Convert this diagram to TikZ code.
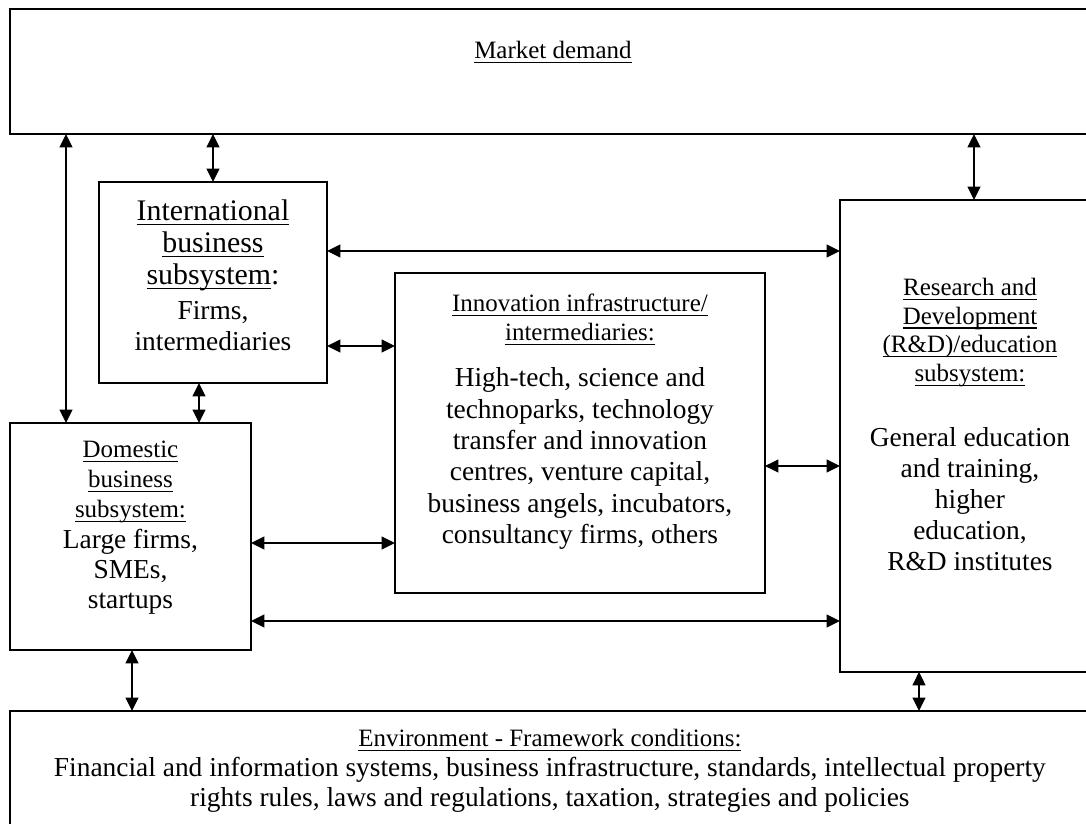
\documentclass[tikz,border=0pt]{standalone}
\usepackage{fontspec}
\setmainfont{Liberation Serif}
\usepackage{tikz}
\usetikzlibrary{positioning,arrows.meta}
\tikzset{caja/.style={draw, line width=0.8pt, inner sep=0pt, outer sep=0pt, anchor=north west}}
\tikzset{flecha/.style={line width=0.8pt, {Triangle[length=0.27cm,width=0.26cm]}-{Triangle[length=0.27cm,width=0.26cm]}}}
\tikzset{titulo/.style={align=center, inner sep=0pt, outer sep=0pt, anchor=north, font=\fontsize{14.2}{16.4}\selectfont}}
\tikzset{cuerpo/.style={align=center, inner sep=0pt, outer sep=0pt, anchor=north, font=\fontsize{15.6}{17.6}\selectfont}}
\newsavebox{\subrbox}
\newcommand{\subr}[1]{\sbox{\subrbox}{#1}\rlap{\rule[-2.6pt]{\wd\subrbox}{0.7pt}}\usebox{\subrbox}}

\begin{document}
\begin{tikzpicture}[x=0.02cm, y=-0.02cm]
    \useasboundingbox (0,0) rectangle (1086,824);
    \clip (0,0) rectangle (1086,824);

    % cajas
    \node[caja, minimum width=21.72cm, minimum height=2.5cm]  (market) at (10,9)    {};
    \node[caja, minimum width=4.56cm,  minimum height=4.02cm] (intl)   at (99,182)  {};
    \node[caja, minimum width=4.82cm,  minimum height=4.54cm] (dom)    at (10,423)  {};
    \node[caja, minimum width=7.4cm,   minimum height=6.4cm]  (inn)    at (395,273) {};
    \node[caja, minimum width=5.2cm,   minimum height=9.44cm] (rd)     at (840,200) {};
    \node[caja, minimum width=21.6cm,  minimum height=2.6cm]  (env)    at (10,711)  {};

    % textos
    \node[titulo, below=0.64cm of market.north] (mdtext) {\subr{Market demand}};

    \node[titulo, below=0.36cm of intl.north, font=\fontsize{17}{18.1}\selectfont] (inttitle)
        {\subr{International}\\ \subr{business}\\ \subr{subsystem}:};
    \node[cuerpo, below=2.38cm of intl.north, font=\fontsize{15.6}{18.1}\selectfont] (intbody)
        {Firms,\\ intermediaries};

    \node[titulo, below=0.36cm of dom.north, font=\fontsize{14.2}{17}\selectfont] (domtitle)
        {\subr{Domestic}\\ \subr{business}\\ \subr{subsystem:}};
    \node[cuerpo, below=2.12cm of dom.north, font=\fontsize{15.6}{17}\selectfont] (dombody)
        {Large firms,\\ SMEs,\\ startups};

    \node[titulo, below=0.42cm of inn.north] (inntitle)
        {\subr{Innovation infrastructure/}\\ \subr{intermediaries:}};
    \node[cuerpo, below=1.9cm of inn.north, font=\fontsize{15.6}{17.8}\selectfont] (innbody)
        {High-tech, science and\\ technoparks, technology\\ transfer and innovation\\
         centres, venture capital,\\ business angels, incubators,\\ consultancy firms, others};

    \node[titulo, below=1.56cm of rd.north] (rdtitle)
        {\subr{Research and}\\ \subr{Development}\\ \subr{(R\&D)/education}\\ \subr{subsystem:}};
    \node[cuerpo, below=4.56cm of rd.north] (rdbody)
        {General education\\ and training,\\ higher\\ education,\\ R\&D institutes};

    \node[titulo, below=0.36cm of env.north] (envtitle) {\subr{Environment - Framework conditions:}};
    \node[cuerpo, below=0.92cm of env.north, font=\fontsize{15.6}{17}\selectfont] (envbody)
        {Financial and information systems, business infrastructure, standards, intellectual property\\
         rights rules, laws and regulations, taxation, strategies and policies};

    % flechas
    \coordinate (c1) at (66,0);
    \coordinate (c2) at (199,0);
    \coordinate (c3) at (974,0);
    \coordinate (c4) at (132,0);
    \coordinate (c5) at (919,0);
    \coordinate (f1) at (0,251);
    \coordinate (f2) at (0,346);
    \coordinate (f3) at (0,466);
    \coordinate (f4) at (0,543);
    \coordinate (f5) at (0,621);

    \draw[flecha] (market.south -| c1) -- (dom.north -| c1);
    \draw[flecha] (market.south -| intl.north) -- (intl.north);
    \draw[flecha] (market.south -| c3) -- (rd.north -| c3);
    \draw[flecha] (intl.east |- f1) -- (rd.west |- f1);
    \draw[flecha] (intl.east |- f2) -- (inn.west |- f2);
    \draw[flecha] (intl.south -| c2) -- (dom.north -| c2);
    \draw[flecha] (inn.east |- f3) -- (rd.west |- f3);
    \draw[flecha] (dom.east |- f4) -- (inn.west |- f4);
    \draw[flecha] (dom.east |- f5) -- (rd.west |- f5);
    \draw[flecha] (dom.south -| c4) -- (env.north -| c4);
    \draw[flecha] (rd.south -| c5) -- (env.north -| c5);
\end{tikzpicture}
\end{document}
